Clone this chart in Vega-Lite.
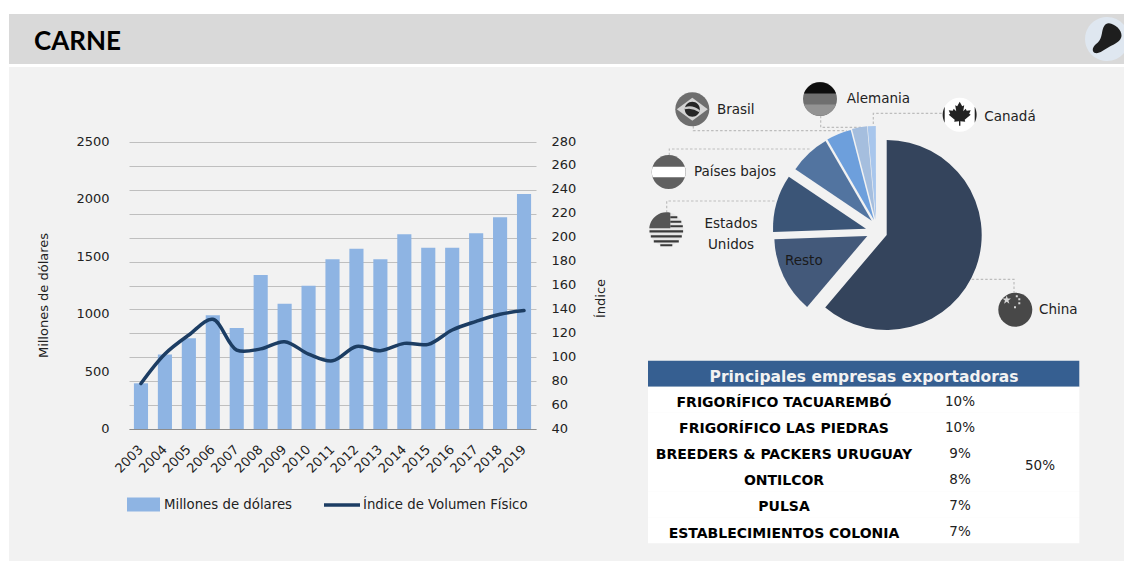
{
"$schema":"https://vega.github.io/schema/vega-lite/v6.json",
"background":"#ffffff",
"padding":{"left":9,"top":14,"right":0,"bottom":0},
"config":{"view":{"stroke":null},"font":"DejaVu Sans","text":{"font":"DejaVu Sans","fontSize":13.5,"color":"#222222"}},
"datasets":{
"anual":[
{"anio":"2003","millones":398,"indice":78},
{"anio":"2004","millones":650,"indice":102.7},
{"anio":"2005","millones":790,"indice":118.6},
{"anio":"2006","millones":990,"indice":131.7},
{"anio":"2007","millones":880,"indice":106},
{"anio":"2008","millones":1341,"indice":107},
{"anio":"2009","millones":1090,"indice":113},
{"anio":"2010","millones":1248,"indice":102.7},
{"anio":"2011","millones":1478,"indice":97},
{"anio":"2012","millones":1570,"indice":109},
{"anio":"2013","millones":1478,"indice":105.5},
{"anio":"2014","millones":1696,"indice":111.6},
{"anio":"2015","millones":1579,"indice":110.8},
{"anio":"2016","millones":1579,"indice":122.8},
{"anio":"2017","millones":1705,"indice":130},
{"anio":"2018","millones":1844,"indice":136},
{"anio":"2019","millones":2047,"indice":139}],
"paises":[
{"pais":"China","orden":1,"participacion":61.2},
{"pais":"Resto","orden":2,"participacion":13.25},
{"pais":"Estados Unidos","orden":3,"participacion":9.97},
{"pais":"Países bajos","orden":4,"participacion":7.22},
{"pais":"Brasil","orden":5,"participacion":4.33},
{"pais":"Alemania","orden":6,"participacion":2.61},
{"pais":"Canadá","orden":7,"participacion":1.39}],
"lideres":[{"pais":"Brasil"},{"pais":"Alemania"},{"pais":"Canadá"},{"pais":"Países bajos"},{"pais":"Estados Unidos"},{"pais":"China"}],
"banderas":[
{"bandera":"Brasil","parte":"br1"},{"bandera":"Brasil","parte":"br2"},{"bandera":"Brasil","parte":"br3"},{"bandera":"Brasil","parte":"br4"},
{"bandera":"Alemania","parte":"de1"},{"bandera":"Alemania","parte":"de2"},{"bandera":"Alemania","parte":"de3"},
{"bandera":"Canadá","parte":"ca1"},{"bandera":"Canadá","parte":"ca2"},{"bandera":"Canadá","parte":"ca3"},
{"bandera":"Países bajos","parte":"nl1"},{"bandera":"Países bajos","parte":"nl2"},
{"bandera":"Estados Unidos","parte":"us1"},{"bandera":"Estados Unidos","parte":"us2"},{"bandera":"Estados Unidos","parte":"us3"},
{"bandera":"China","parte":"cn1"},{"bandera":"China","parte":"cn2"}],
"filas":[
{"fila":"Principales empresas exportadoras","tipo":"Encabezado"},
{"fila":"FRIGORÍFICO TACUAREMBÓ","tipo":"Empresa","pct":"10%"},
{"fila":"FRIGORÍFICO LAS PIEDRAS","tipo":"Empresa","pct":"10%"},
{"fila":"BREEDERS & PACKERS URUGUAY","tipo":"Empresa","pct":"9%"},
{"fila":"ONTILCOR","tipo":"Empresa","pct":"8%"},
{"fila":"PULSA","tipo":"Empresa","pct":"7%"},
{"fila":"ESTABLECIMIENTOS COLONIA","tipo":"Empresa","pct":"7%"}],
"total":[{"fila":"BREEDERS & PACKERS URUGUAY","total":"50%"}],
"titulo":[{"titulo":"CARNE","icono":"fondo"},{"titulo":"CARNE","icono":"pieza"}]
},
"vconcat":[
{"width":1115,"height":50,"view":{"fill":"#d9d9d9"},"data":{"name":"titulo"},
 "layer":[
  {"transform":[{"filter":"datum.icono==='fondo'"}],"mark":{"type":"text","font":"Lato","fontWeight":"bold","fontSize":26,"align":"left","baseline":"middle","dx":-532.5,"dy":3,"color":"#000000"},"encoding":{"text":{"field":"titulo"}}},
  {"mark":{"type":"point","filled":true,"size":4,"opacity":1,"strokeWidth":0,"xOffset":540.5,"yOffset":0},
   "encoding":{"shape":{"field":"icono","legend":null,"scale":{"domain":["fondo","pieza"],"range":["M17,-14A22,22 0 1 0 17,14Z","M2,-15.7C8,-15 15,-9 14.5,-3C14,2 8,5 2,8C-3,11 -8,15 -12,14C-15,13 -15,9 -12,6C-8,3 -6,0 -5,-6C-4,-12 -2,-16 2,-15.7Z"]}},
    "fill":{"field":"icono","legend":null,"scale":{"domain":["fondo","pieza"],"range":["#dfe7f0","#1e1e1e"]}}}}
 ]},
{"hconcat":[
 {"width":631,"height":494,"view":{"fill":"#f2f2f2"},"data":{"name":"anual"},
  "encoding":{"x":{"field":"anio","type":"ordinal","title":null,"scale":{"type":"band","range":[120,527],"paddingInner":0.41,"paddingOuter":0.205},
    "axis":{"offset":-132,"labelAngle":-45,"labelAlign":"right","labelBaseline":"middle","ticks":false,"labelPadding":18,"labelFontSize":13,"labelColor":"#222222","domainColor":"#8c8c8c","grid":false}}},
  "layer":[
   {"mark":{"type":"rule","opacity":0},
    "encoding":{"y":{"field":"indice","type":"quantitative","scale":{"domain":[40,280],"range":[362,75]},
      "axis":{"orient":"left","values":[40,60,80,100,120,140,160,180,200,220,240,260,280],"grid":true,"gridColor":"#bfbfbf","gridWidth":1.2,"domain":false,"ticks":false,"labels":false,"title":null}}}},
   {"mark":{"type":"bar","fill":"#8eb4e3"},
    "encoding":{"y":{"field":"millones","type":"quantitative","scale":{"domain":[0,2500],"range":[362,75]},
      "axis":{"orient":"left","offset":-100,"values":[0,500,1000,1500,2000,2500],"format":"d","grid":false,"domain":false,"ticks":false,"labelPadding":0,"labelOffset":-0.5,"labelFontSize":13,"labelColor":"#222222","title":"Millones de dólares","titleFontSize":13,"titleFontWeight":"normal","titleColor":"#222222","titleX":-59,"titleY":228}},
     "fill":{"datum":"Millones de dólares","scale":{"range":["#8eb4e3"]},
      "legend":{"orient":"none","legendX":118,"legendY":421,"title":null,"symbolType":"M-1,-0.42H1V0.42H-1Z","symbolSize":1089,"symbolStrokeWidth":0,"labelFontSize":13.3,"labelColor":"#222222","labelOffset":4,"labelLimit":0,"padding":0}}}},
   {"mark":{"type":"line","strokeWidth":3.5,"interpolate":"catmull-rom","strokeCap":"round"},
    "encoding":{"y":{"field":"indice","type":"quantitative","scale":{"domain":[40,280],"range":[362,75]},
      "axis":{"orient":"right","offset":-89,"values":[40,60,80,100,120,140,160,180,200,220,240,260,280],"grid":false,"domain":false,"ticks":false,"labelPadding":0,"labelOffset":-1,"labelFontSize":13,"labelColor":"#222222","title":"Índice","titleFontSize":13,"titleFontWeight":"normal","titleColor":"#222222","titleAngle":270,"titleX":56,"titleY":231}},
     "stroke":{"datum":"Índice de Volumen Físico","scale":{"range":["#1c3d63"]},
      "legend":{"orient":"none","legendX":313,"legendY":418,"title":null,"symbolType":"stroke","symbolSize":1296,"symbolStrokeWidth":3.5,"labelFontSize":13.3,"labelColor":"#222222","labelOffset":1,"labelLimit":0,"padding":0}}}}
  ],
  "resolve":{"scale":{"y":"independent"},"axis":{"y":"independent"}}
 },
 {"spacing":0,"bounds":"flush","vconcat":[
  {"width":484,"height":288,"view":{"fill":"#f2f2f2"},
   "layer":[
    {"data":{"name":"lideres"},
     "mark":{"type":"point","filled":false,"size":4,"opacity":1,"strokeWidth":1.2,"strokeDash":[2.5,2],"stroke":"#bdbdbd"},
     "encoding":{"shape":{"field":"pais","legend":null,"scale":{"domain":["Brasil","Alemania","Canadá","Países bajos","Estados Unidos","China"],"range":[
       "M-188.7,-85L-188.7,-80.3L-35.3,-80.3","M-61.3,-95.3L-61.3,-83.7L-20.3,-83.7","M59.7,-97.7L-8.7,-97.7L-8.7,-85","M-212.7,-55.7L-212.7,-62L-72,-62","M-215.3,1.7L-215.3,-10L-106.3,-10","M89.7,68.3L132,68.3L132,81.7"]}}}},
    {"data":{"name":"paises"},
     "transform":[{"stack":"participacion","sort":[{"field":"orden"}],"as":["a0","a1"]}],
     "encoding":{"theta":{"field":"a0","type":"quantitative","scale":{"domain":[0,100],"range":[0,6.283185]}},"theta2":{"field":"a1"},
       "color":{"field":"pais","legend":null,"scale":{"domain":["China","Resto","Estados Unidos","Países bajos","Brasil","Alemania","Canadá"],"range":["#34445c","#43597a","#3b5577","#5274a0","#6d9fdc","#a5bede","#a8c6ec"]}}},
     "layer":[
      {"transform":[{"filter":"datum.pais==='China'"}],"mark":{"type":"arc","radius":95,"xOffset":4.7,"yOffset":24}},
      {"transform":[{"filter":"datum.pais==='Resto'"}],"mark":{"type":"arc","radius":93,"xOffset":-14.7,"yOffset":25}},
      {"transform":[{"filter":"datum.pais==='Estados Unidos'"}],"mark":{"type":"arc","radius":93,"xOffset":-16,"yOffset":17.7}},
      {"transform":[{"filter":"datum.pais==='Países bajos'"}],"mark":{"type":"arc","radius":92,"xOffset":-10.3,"yOffset":9.7}},
      {"transform":[{"filter":"datum.pais==='Brasil'"}],"mark":{"type":"arc","radius":93,"xOffset":-8,"yOffset":9}},
      {"transform":[{"filter":"datum.pais==='Alemania'"}],"mark":{"type":"arc","radius":93,"xOffset":-6.7,"yOffset":8}},
      {"transform":[{"filter":"datum.pais==='Canadá'"}],"mark":{"type":"arc","radius":94,"xOffset":-6,"yOffset":9}}
     ]},
    {"data":{"name":"banderas"},
     "encoding":{
      "shape":{"field":"parte","legend":null,"scale":{"domain":["br1","br2","br3","br4","de1","de2","de3","ca1","ca2","ca3","nl1","nl2","us1","us2","us3","cn1","cn2"],"range":[
       "M-17,0A17,17 0 1 1 17,0A17,17 0 1 1 -17,0Z",
       "M-15.5,0L0,-11.5L15.5,0L0,11.5Z",
       "M-7.5,0A7.5,7.5 0 1 1 7.5,0A7.5,7.5 0 1 1 -7.5,0Z",
       "M-7.5,-2Q0,-5 7.5,1L7,3Q0,-2 -7.5,0Z",
       "M-17,0A17,17 0 1 1 17,0A17,17 0 1 1 -17,0Z",
       "M-16,-5.6A17,17 0 0 1 16,-5.6Z",
       "M16,5.6A17,17 0 0 1 -16,5.6Z",
       "M-17,0A17,17 0 1 1 17,0A17,17 0 1 1 -17,0Z",
       "M-15,-8A17,17 0 0 0 -15,8ZM15,-8A17,17 0 0 1 15,8Z",
       "M0,-13L2.5,-8.5L4.5,-9.5L3.5,-3.5L6,-6L7,-4L11,-4.5L9.5,-1L11,0L5,5L5.5,7L0.7,6.5L0.7,11L-0.7,11L-0.7,6.5L-5.5,7L-5,5L-11,0L-9.5,-1L-11,-4.5L-7,-4L-6,-6L-3.5,-3.5L-4.5,-9.5L-2.5,-8.5Z",
       "M-17,0A17,17 0 1 1 17,0A17,17 0 1 1 -17,0Z",
       "M-16,-5.3L16,-5.3A17,17 0 0 1 16,5.3L-16,5.3A17,17 0 0 1 -16,-5.3Z",
       "M-17,0A17,17 0 1 1 17,0A17,17 0 1 1 -17,0Z",
       "M-17,-1A17,17 0 0 1 4,-16.5L4,-1Z",
       "M4,-13H11V-11H4ZM4,-8.5H15V-6.5H4ZM4,-4H16.5V-2H4ZM-16.8,1H16.8V3.2H-16.8ZM-15.5,6H15.5V8.2H-15.5ZM-12.5,11H12.5V13.2H-12.5ZM-6,15H6V17H-6Z",
       "M-17,0A17,17 0 1 1 17,0A17,17 0 1 1 -17,0Z",
       "M-8.6,-14.2L-7.54,-11.16L-4.32,-11.09L-6.89,-9.14L-5.95,-6.06L-8.6,-7.9L-11.25,-6.06L-10.31,-9.14L-12.88,-11.09L-9.66,-11.16ZM0.5,-14.5h2v2h-2zM3,-7.5h2v2h-2zM-1.3,-3.5h2v2h-2zM3,-11.5h2v2h-2z"
      ]}},
      "fill":{"field":"parte","legend":null,"scale":{"domain":["br1","br2","br3","br4","de1","de2","de3","ca1","ca2","ca3","nl1","nl2","us1","us2","us3","cn1","cn2"],"range":["#6e6e6e","#d4d4d4","#262626","#c8c8c8","#6f6f6f","#0d0d0d","#939393","#ffffff","#222222","#222222","#606060","#ffffff","#e6e6e6","#555555","#3a3a3a","#484848","#d8d8d8"]}}},
     "layer":[
      {"transform":[{"filter":"datum.bandera==='Brasil'"}],"mark":{"type":"point","filled":true,"size":4,"opacity":1,"strokeWidth":0,"xOffset":-189.7,"yOffset":-101.7}},
      {"transform":[{"filter":"datum.bandera==='Alemania'"}],"mark":{"type":"point","filled":true,"size":4,"opacity":1,"strokeWidth":0,"xOffset":-62,"yOffset":-112}},
      {"transform":[{"filter":"datum.bandera==='Canadá'"}],"mark":{"type":"point","filled":true,"size":4,"opacity":1,"strokeWidth":0,"xOffset":77.7,"yOffset":-96.3}},
      {"transform":[{"filter":"datum.bandera==='Países bajos'"}],"mark":{"type":"point","filled":true,"size":4,"opacity":1,"strokeWidth":0,"xOffset":-213.3,"yOffset":-39}},
      {"transform":[{"filter":"datum.bandera==='Estados Unidos'"}],"mark":{"type":"point","filled":true,"size":4,"opacity":1,"strokeWidth":0,"xOffset":-215.7,"yOffset":18.3}},
      {"transform":[{"filter":"datum.bandera==='China'"}],"mark":{"type":"point","filled":true,"size":4,"opacity":1,"strokeWidth":0,"xOffset":133.3,"yOffset":98.7}}
     ]},
    {"data":{"name":"paises"},
     "encoding":{"text":{"field":"pais"}},
     "layer":[
      {"transform":[{"filter":"datum.pais==='Brasil'"}],"mark":{"type":"text","align":"left","baseline":"middle","dx":-165,"dy":-101}},
      {"transform":[{"filter":"datum.pais==='Alemania'"}],"mark":{"type":"text","align":"left","baseline":"middle","dx":-35.3,"dy":-112.5}},
      {"transform":[{"filter":"datum.pais==='Canadá'"}],"mark":{"type":"text","align":"left","baseline":"middle","dx":102.3,"dy":-94.5}},
      {"transform":[{"filter":"datum.pais==='Países bajos'"}],"mark":{"type":"text","align":"left","baseline":"middle","dx":-188,"dy":-39.5}},
      {"transform":[{"filter":"datum.pais==='Estados Unidos'"}],"mark":{"type":"text","align":"center","baseline":"middle","lineBreak":" ","lineHeight":21,"dx":-151,"dy":12.5}},
      {"transform":[{"filter":"datum.pais==='Resto'"}],"mark":{"type":"text","align":"left","baseline":"middle","color":"#1a1a1a","dx":-97,"dy":50}},
      {"transform":[{"filter":"datum.pais==='China'"}],"mark":{"type":"text","align":"left","baseline":"middle","dx":157,"dy":99}}
     ]}
   ],
   "resolve":{"scale":{"shape":"independent"}}
  },
  {"width":484,"height":206,"view":{"fill":"#f2f2f2"},
   "encoding":{"y":{"field":"fila","type":"nominal","title":null,"axis":null,"scale":{"type":"band","domain":["Principales empresas exportadoras","FRIGORÍFICO TACUAREMBÓ","FRIGORÍFICO LAS PIEDRAS","BREEDERS & PACKERS URUGUAY","ONTILCOR","PULSA","ESTABLECIMIENTOS COLONIA"],"range":[5.7,188.3],"paddingInner":0,"paddingOuter":0}}},
   "layer":[
    {"data":{"name":"filas"},"mark":{"type":"rect"},
     "encoding":{"x":{"datum":0,"type":"quantitative","axis":null,"scale":{"domain":[0,1],"range":[8,439.3]}},"x2":{"datum":1},
      "color":{"field":"tipo","legend":null,"scale":{"domain":["Encabezado","Empresa"],"range":["#365f91","#ffffff"]}}}},
    {"data":{"name":"filas"},"transform":[{"filter":"datum.tipo==='Encabezado'"}],"mark":{"type":"text","fontWeight":"bold","fontSize":15.5,"color":"#f2f2f2","dx":-18,"dy":3,"baseline":"middle"},"encoding":{"text":{"field":"fila"}}},
    {"data":{"name":"filas"},"transform":[{"filter":"datum.tipo==='Empresa'"}],"mark":{"type":"text","fontWeight":"bold","fontSize":14,"color":"#000000","dx":-98,"dy":3.3,"baseline":"middle"},"encoding":{"text":{"field":"fila"}}},
    {"data":{"name":"filas"},"transform":[{"filter":"datum.tipo==='Empresa'"}],"mark":{"type":"text","fontSize":13.5,"dx":78,"dy":2,"baseline":"middle"},"encoding":{"text":{"field":"pct"}}},
    {"data":{"name":"total"},"mark":{"type":"text","fontSize":13.5,"dx":158,"dy":13.5,"baseline":"middle"},"encoding":{"text":{"field":"total"}}}
   ]
  }
 ],
 "resolve":{"scale":{"color":"independent","fill":"independent","shape":"independent","stroke":"independent"}}}
],"spacing":0,"bounds":"flush",
 "resolve":{"scale":{"color":"independent","fill":"independent","shape":"independent","stroke":"independent"}}}
],"spacing":3,"bounds":"flush",
"resolve":{"scale":{"color":"independent","fill":"independent","shape":"independent","stroke":"independent"}}}
